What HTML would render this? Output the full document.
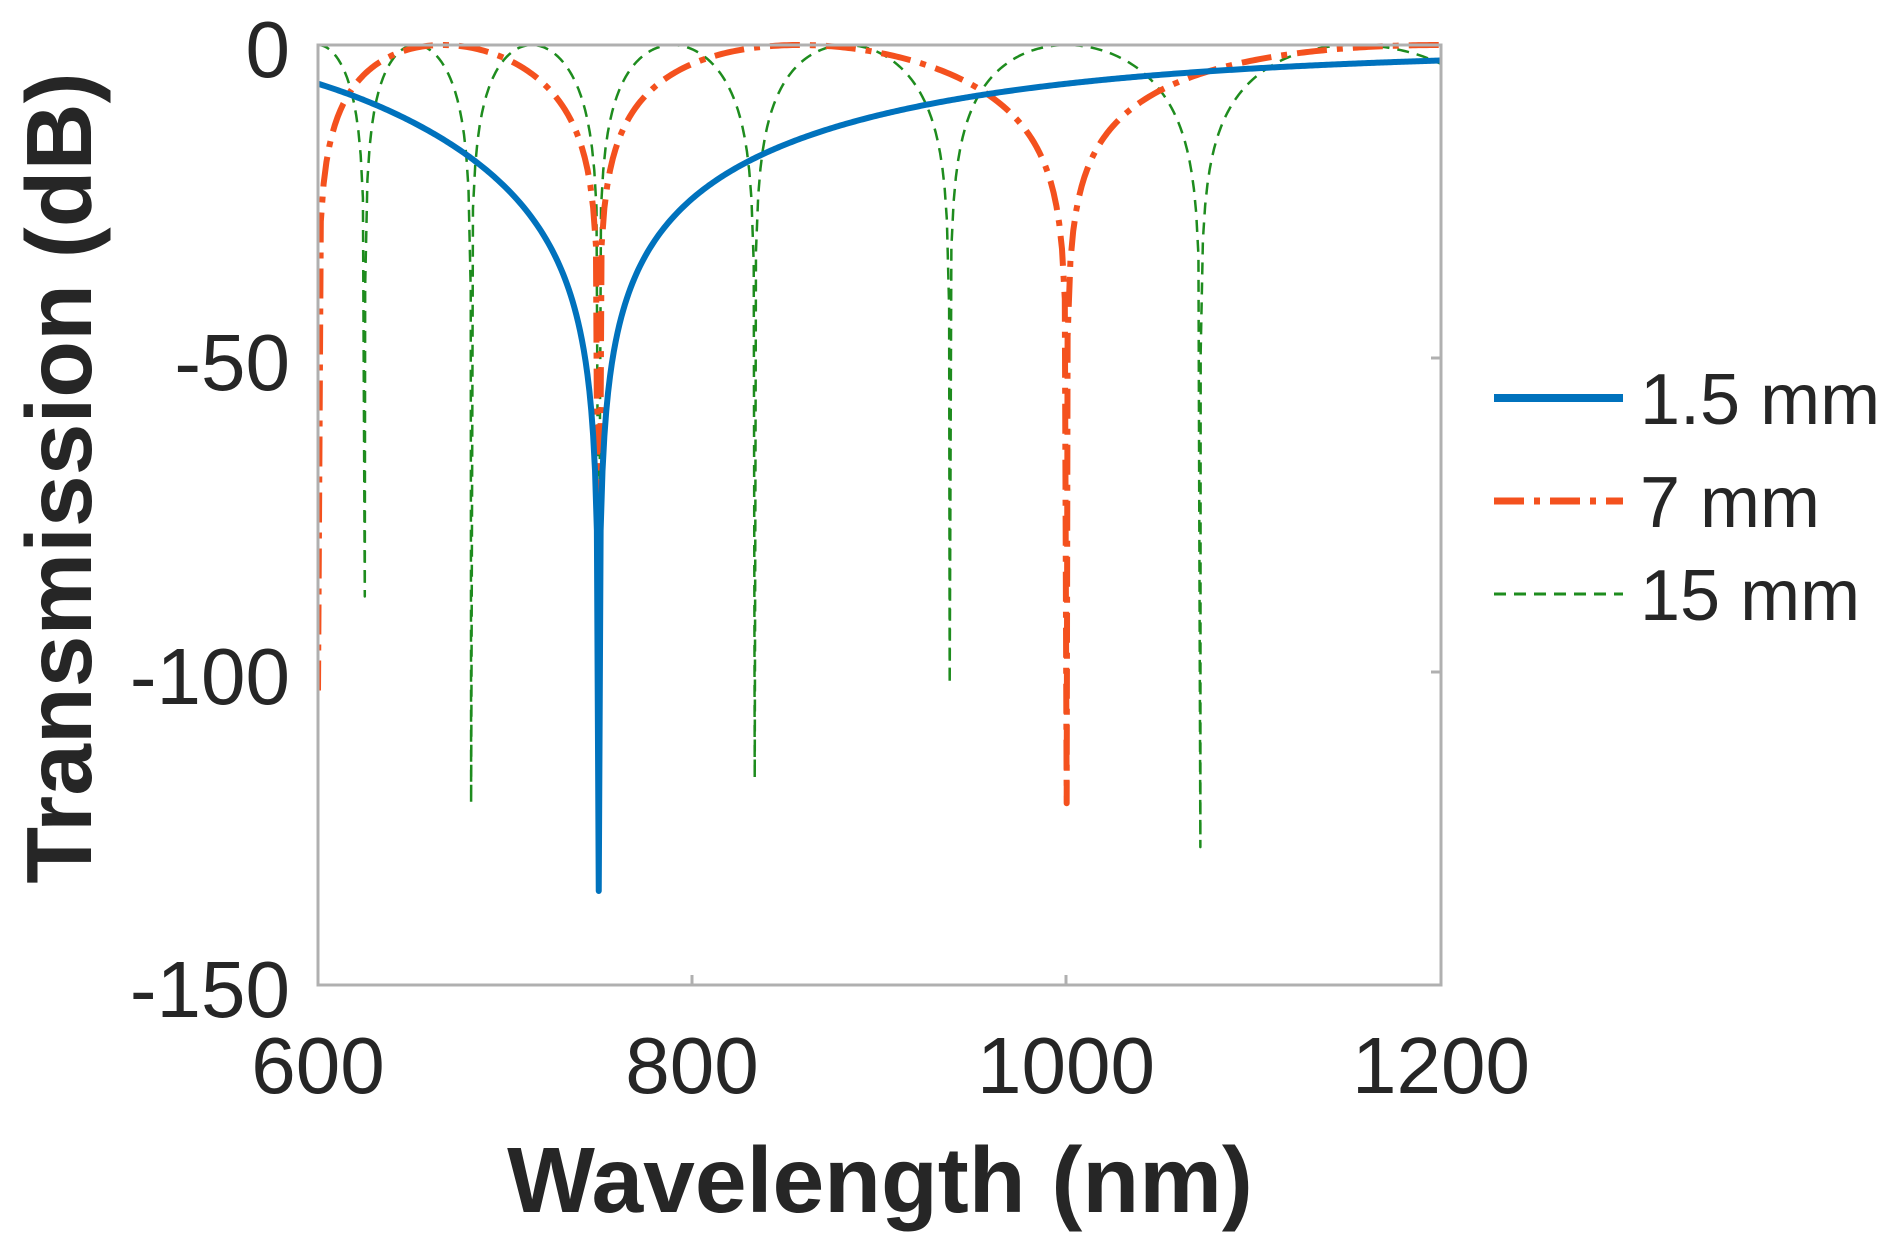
<!DOCTYPE html>
<html><head><meta charset="utf-8"><style>
html,body{margin:0;padding:0;background:#fff;}
svg{display:block;}
text{font-family:"Liberation Sans",Arial,sans-serif;fill:#262626;}
</style></head><body>
<svg id="s" width="1902" height="1253" xmlns="http://www.w3.org/2000/svg">
<rect width="1902" height="1253" fill="#fff"/>
<defs><clipPath id="c"><rect x="318" y="38" width="1123" height="947"/></clipPath></defs>
<g id="plot" clip-path="url(#c)"></g>
<rect x="318" y="45" width="1123" height="940" fill="none" stroke="#b0b0b0" stroke-width="3"/>
<g stroke="#b0b0b0" stroke-width="3">
<line x1="692" y1="985" x2="692" y2="975"/><line x1="1066" y1="985" x2="1066" y2="975"/>
<line x1="1441" y1="358" x2="1431" y2="358"/><line x1="1441" y1="672" x2="1431" y2="672"/>
</g>
<g font-size="80" text-anchor="end">
<text x="290" y="77">0</text><text x="290" y="390">-50</text>
<text x="290" y="704">-100</text><text x="290" y="1017">-150</text>
</g>
<g font-size="80" text-anchor="middle">
<text x="318" y="1093">600</text><text x="692" y="1093">800</text>
<text x="1066" y="1093">1000</text><text x="1441" y="1093">1200</text>
</g>
<text x="880" y="1212" font-size="93" font-weight="bold" text-anchor="middle">Wavelength (nm)</text>
<text transform="translate(91,478) rotate(-90)" font-size="93" font-weight="bold" text-anchor="middle">Transmission (dB)</text>
<line x1="1494" y1="398" x2="1623" y2="398" stroke="#0072BD" stroke-width="8"/>
<line x1="1494" y1="501" x2="1623" y2="501" stroke="#F4511E" stroke-width="7" stroke-dasharray="30,10,6,10"/>
<line x1="1494" y1="594" x2="1623" y2="594" stroke="#1E8C1E" stroke-width="3" stroke-dasharray="12,8"/>
<g font-size="72">
<text x="1640" y="424">1.5 mm</text><text x="1640" y="527">7 mm</text><text x="1640" y="620">15 mm</text>
</g>
</svg>
<script>
function X(l){return 318+(l-600)/600*1123;}
function Y(d){return 45+(-d)/150*940;}
var g=document.getElementById('plot');
function build(f,dips,step){
  var ls=[];
  for(var l=600;l<=1200.001;l+=step){ls.push(l);}
  dips.forEach(function(d){if(d[0]>=600&&d[0]<=1200)ls.push(d[0]);});
  ls.sort(function(a,b){return a-b;});
  var s='';
  ls.forEach(function(l,i){
    var v=f(l);
    var best=null,bd=1e9;
    dips.forEach(function(d){var dd=Math.abs(d[0]-l);if(dd<bd){bd=dd;best=d;}});
    if(best&&bd<0.01)v=best[1];
    if(best&&v<best[1])v=best[1];
    if(!isFinite(v))v=best?best[1]:-150;
    s+=(i?'L':'M')+X(l).toFixed(2)+','+Y(v).toFixed(2);
  });
  return s;
}
function add(d,col,w,da){
  var p=document.createElementNS('http://www.w3.org/2000/svg','path');
  p.setAttribute('d',d);p.setAttribute('fill','none');p.setAttribute('stroke',col);
  p.setAttribute('stroke-width',w);if(da)p.setAttribute('stroke-dasharray',da);
  p.setAttribute('stroke-linejoin','round');g.appendChild(p);
}
function sinT(p){return function(l){var a=Math.PI*(1000/l-1000/750)/p;var s=Math.sin(a);return 10*Math.log10(s*s+1e-30);};}
add(build(sinT(0.133333),[[625,-88],[681.8,-121],[750,-100],[833.33,-117],[937.5,-102],[1071.43,-128]],1.2),'#1E8C1E',2.5,'12,8');
add(build(sinT(0.333333),[[600,-103],[750,-112],[1000,-121]],1.5),'#F4511E',6,'30,10,6,10');
add(build(function(l){var d=Math.abs(1000/l-1000/750);if(d<1e-9)return -135;var r=Math.pow(0.4936/d,3.73);return -10*Math.log10(1+r)*0.85;},[[750,-135]],1),'#0072BD',6,null);
</script>
</body></html>
